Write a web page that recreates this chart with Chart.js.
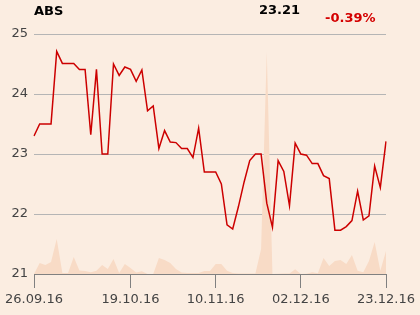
<!DOCTYPE html>
<html>
<head>
<meta charset="utf-8">
<script src="https://cdn.jsdelivr.net/npm/chart.js@4"></script>
<style>
  html, body { margin: 0; padding: 0; background: #fbede1; }
  .wrap { position: relative; width: 420px; height: 315px; }
  .hd { position: absolute; font: bold 13px "DejaVu Sans"; line-height: 13px; white-space: nowrap; }
  canvas { position: absolute; left: 0; top: 0; }
</style>
</head>
<body>
<div class="wrap">
  <canvas class="js-chart" width="420" height="315"></canvas>
  <div class="hd" style="left:34px; top:4px; color:#000;">ABS</div>
  <div class="hd" style="left:259px; top:3px; color:#000;">23.21</div>
  <div class="hd" style="left:325px; top:11px; color:#d40000;">-0.39%</div>
</div>
<script>
// closing prices, one per trading day
const prices = [23.30, 23.50, 23.50, 23.50, 24.71, 24.51, 24.51, 24.51, 24.41, 24.41,
  23.32, 24.41, 23.00, 23.00, 24.50, 24.31, 24.45, 24.41, 24.21, 24.40,
  23.72, 23.80, 23.09, 23.39, 23.20, 23.19, 23.09, 23.09, 22.94, 23.43,
  22.70, 22.70, 22.70, 22.50, 21.82, 21.75, 22.12, 22.53, 22.89, 23.00,
  23.00, 22.18, 21.78, 22.89, 22.71, 22.14, 23.18, 23.00, 22.98, 22.84,
  22.84, 22.64, 22.59, 21.73, 21.73, 21.79, 21.89, 22.38, 21.90, 21.97,
  22.80, 22.44, 23.21];
// traded volume (relative units)
const volumes = [0, 11, 9, 12, 35, 1, 1, 17, 3.5, 3,
  1.7, 3.3, 9, 5, 15, 1, 10, 6, 1.5, 2.7,
  0, 0, 16, 14, 11, 5, 1.5, 1, 1, 1,
  3, 3, 10, 10, 3.3, 1, 0.5, 0.5, 0.5, 0.5,
  25, 222, 0, 0.3, 0.5, 0.5, 4.7, 0, 0.3, 1.7,
  0.7, 16, 8, 13, 14, 10, 19, 3.3, 1.7, 13,
  32, 3.3, 23];
const tickIdx = [0, 17, 32, 47, 62];
const tickLabels = ["26.09.16", "19.10.16", "10.11.16", "02.12.16", "23.12.16"];
const yTicks = [21, 22, 23, 24, 25];

const labels = prices.map((p, i) => {
  const k = tickIdx.indexOf(i);
  return k >= 0 ? tickLabels[k] : "";
});

const elChart = document.querySelector(".js-chart");

new Chart(elChart, {
  type: "line",
  data: {
    labels: labels,
    datasets: [
      {
        label: "Price",
        data: prices,
        borderColor: "#cc0000",
        borderWidth: 1.5,
        pointRadius: 0,
        tension: 0,
        fill: false,
        yAxisID: "y",
        order: 1
      },
      {
        label: "Volume",
        data: volumes,
        borderWidth: 0,
        borderColor: "rgba(0,0,0,0)",
        backgroundColor: "#f8dbc6",
        pointRadius: 0,
        tension: 0,
        fill: "origin",
        yAxisID: "yv",
        order: 2
      }
    ]
  },
  options: {
    responsive: false,
    animation: false,
    layout: { padding: { top: 34, right: 34, left: 0, bottom: 0 } },
    plugins: { legend: { display: false }, tooltip: { enabled: false } },
    scales: {
      x: {
        offset: false,
        afterFit: (scale) => { scale.height = 41; },
        border: { display: true, color: "#808080" },
        grid: {
          drawOnChartArea: false,
          drawTicks: true,
          tickLength: 14,
          color: (ctx) => (ctx.tick && ctx.tick.label ? "#808080" : "rgba(0,0,0,0)")
        },
        ticks: {
          autoSkip: false,
          maxRotation: 0,
          padding: 4,
          color: "#444",
          font: { family: "DejaVu Sans", size: 13 }
        }
      },
      y: {
        min: yTicks[0],
        max: yTicks[yTicks.length - 1],
        afterFit: (scale) => { scale.width = 34; },
        afterBuildTicks: (scale) => { scale.ticks = yTicks.map(v => ({ value: v })); },
        border: { display: false },
        grid: { color: "#b5b5b5", drawTicks: false },
        ticks: {
          padding: 6,
          color: "#444",
          font: { family: "DejaVu Sans", size: 13 }
        }
      },
      yv: {
        display: false,
        min: 0,
        max: 240
      }
    }
  }
});
</script>
</body>
</html>
